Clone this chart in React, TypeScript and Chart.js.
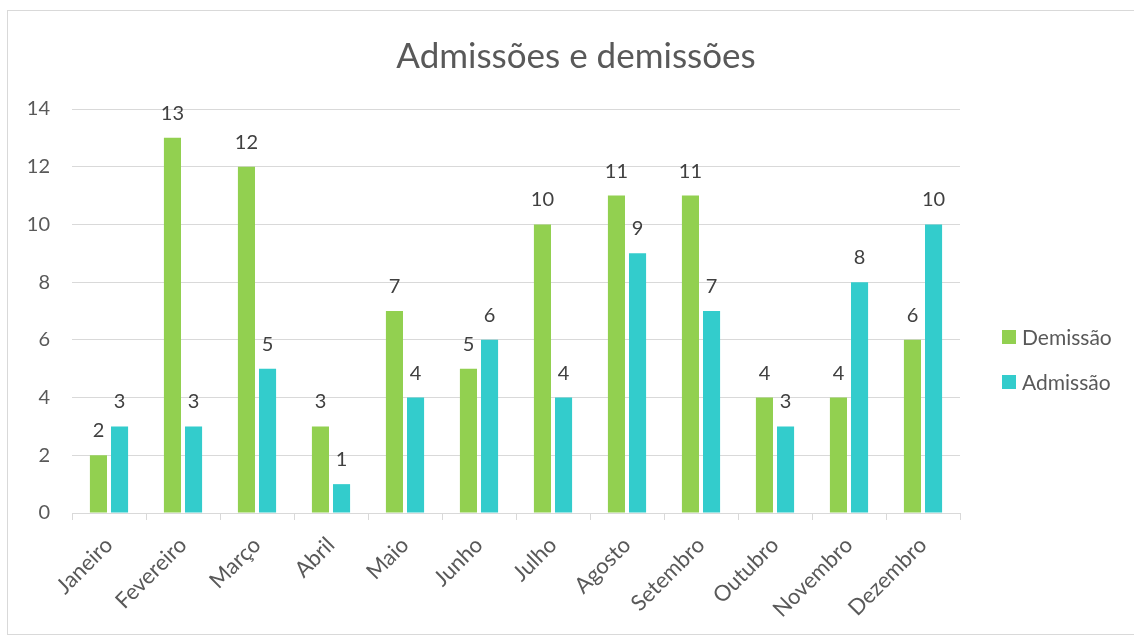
import React, { useEffect, useRef } from "react";
import { Chart, registerables } from "chart.js";

Chart.register(...registerables);

const months = ["Janeiro", "Fevereiro", "Março", "Abril", "Maio", "Junho", "Julho", "Agosto", "Setembro", "Outubro", "Novembro", "Dezembro"];
const demissao = [2, 13, 12, 3, 7, 5, 10, 11, 11, 4, 4, 6];
const admissao = [3, 3, 5, 1, 4, 6, 4, 9, 7, 3, 8, 10];
const yTicks = [0, 2, 4, 6, 8, 10, 12, 14];
const titleText = "Admissões e demissões";
const seriesNames = ["Demissão", "Admissão"];
const seriesColors = ["#92D050", "#33CCCC"];

const FONT = "Lato, 'Open Sans', sans-serif";

const dataLabels = {
  id: "dataLabels",
  afterDatasetsDraw(chart: any) {
    const ctx = chart.ctx;
    ctx.save();
    ctx.font = `20px ${FONT}`;
    ctx.fillStyle = "#404040";
    ctx.textAlign = "center";
    ctx.textBaseline = "alphabetic";
    chart.data.datasets.forEach((ds: any, i: number) => {
      const meta = chart.getDatasetMeta(i);
      meta.data.forEach((bar: any, j: number) => {
        ctx.fillText(String(ds.data[j]), bar.x, bar.y - 18);
      });
    });
    ctx.restore();
  },
};

const sideLegend = {
  id: "sideLegend",
  afterDraw(chart: any) {
    const ctx = chart.ctx;
    ctx.save();
    ctx.font = `21px ${FONT}`;
    ctx.textBaseline = "middle";
    ctx.textAlign = "left";
    const x = 994;
    const ys = [326, 371];
    chart.data.datasets.forEach((ds: any, i: number) => {
      ctx.fillStyle = ds.backgroundColor;
      ctx.fillRect(x, ys[i] - 7, 14, 14);
      ctx.fillStyle = "#595959";
      ctx.fillText(ds.label, x + 20, ys[i] + 1);
    });
    ctx.restore();
  },
};

export default function App() {
  const ref = useRef<HTMLCanvasElement>(null);
  useEffect(() => {
    if (!ref.current) return;
    const chart = new Chart(ref.current, {
      type: "bar",
      data: {
        labels: months,
        datasets: [
          { label: seriesNames[0], data: demissao, backgroundColor: seriesColors[0], categoryPercentage: 0.57, barPercentage: 0.81 },
          { label: seriesNames[1], data: admissao, backgroundColor: seriesColors[1], categoryPercentage: 0.57, barPercentage: 0.81 },
        ],
      },
      options: {
        animation: false,
        responsive: false,
        maintainAspectRatio: false,
        layout: { padding: { left: 10, right: 0, top: 0, bottom: 0 } },
        plugins: {
          legend: { display: false },
          tooltip: { enabled: false },
          title: {
            display: true,
            text: titleText,
            color: "#595959",
            font: { family: FONT, size: 35, weight: "normal" },
            padding: { top: 25, bottom: 31 },
          },
        },
        scales: {
          x: {
            afterFit: (s: any) => { s.height = 121; },
            grid: { display: true, drawOnChartArea: false, drawTicks: true, tickLength: 7, color: "#d9d9d9", offset: true },
            border: { display: true, color: "#d9d9d9" },
            ticks: { color: "#595959", font: { family: FONT, size: 22 }, minRotation: 45, maxRotation: 45, padding: 12 },
          },
          y: {
            min: 0,
            max: 14,
            afterFit: (s: any) => { s.width = 54; },
            afterBuildTicks: (s: any) => { s.ticks = yTicks.map((v) => ({ value: v })); },
            grid: { color: "#d9d9d9", drawTicks: false },
            border: { display: false },
            ticks: { color: "#595959", font: { family: FONT, size: 20 }, padding: 22 },
          },
          legendSpace: {
            position: "right",
            min: 0,
            max: 14,
            afterFit: (s: any) => { s.width = 174; },
            grid: { display: false, drawTicks: false },
            border: { display: false },
            ticks: { display: false },
          },
        },
      },
      plugins: [dataLabels, sideLegend],
    } as any);
    return () => chart.destroy();
  }, []);
  return (
    <div style={{ position: "absolute", left: 7, top: 10, width: 1128, height: 625, border: "1px solid #d9d9d9", boxSizing: "border-box", background: "#fff" }}>
      <canvas ref={ref} width={1126} height={623} style={{ display: "block" }} />
    </div>
  );
}
